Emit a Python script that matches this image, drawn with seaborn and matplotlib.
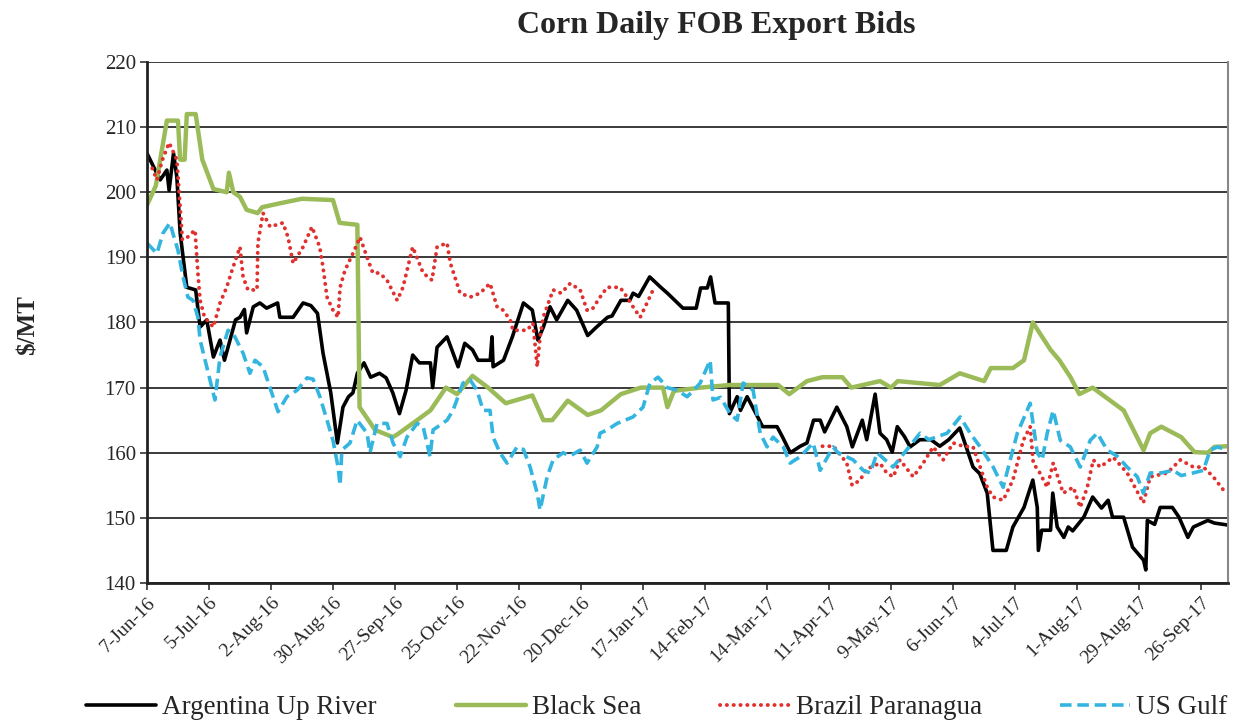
import numpy as np
import pandas as pd
import matplotlib
matplotlib.use("Agg")
import matplotlib.pyplot as plt
import seaborn as sns

START = "2016-06-07"
# (days since 7-Jun-16, $/MT)
argentina = [(0,206),(3,203.9),(6,201.9),(9,203.4),(10,200.3),(12,206),(13.5,202.3),(15,193.7),(18,185.4),(22,185),
    (24,179.3),(27,180.4),(30,174.7),(33,177.3),(35,174.2),(40,180.4),(42,180.8),(44,182),(45,178.4),(48,182.4),
    (51,183),(54,182.2),(59,183),(60,180.8),(66,180.8),(70.5,183),(74,182.6),(77,181.4),(79.5,175.3),(83,169.2),
    (86,161.5),(88.5,167),(91,168.6),(93,169.2),(95,172.2),(98,173.8),(101,171.6),(105,172.2),(108,171.5),(111,169.2),
    (114,166),(117,169.6),(120,175),(123,173.8),(128,173.8),(129,170),(131,176.2),(135.5,177.8),(138,175.5),(140.5,173.2),
    (143.5,176.8),(147,175.8),(149.5,174.2),(155,174.2),(155.8,177.8),(156.3,173.2),(161,174.2),(165,177.8),(170,183),
    (174,181.9),(176.5,177.3),(179,179.3),(182,182.4),(185,180.4),(190,183.4),(194,181.9),(199,178),(203,179.3),
    (208,180.8),(210,181),(214,183.4),(218,183.4),(219.5,184.5),(222,184),(227,187),(232,185.4),(235,184.5),(242,182.2),
    (248,182.2),(250,185.3),(253,185.3),(254.5,187),(256.5,183),(262.5,183),(263,166),(266.5,168.6),(268,166.5),
    (271,168.6),(275,166),(278,164),(284.5,164),(287,162.4),(290.5,160),(295,161),(298,161.5),(301,165),(304,165),
    (306,163.2),(311.5,167),(316,164),(318.5,160.9),(323,165),(325,162),(328.8,169),(331,163),(334,162),(336.5,160.1),
    (338.8,164),(342,162.5),(344.6,160.9),(349,162),(354,162),(358,161),(362,162),(367,163.8),(373,157.8),(376,156.8),
    (379.4,153.8),(382,145),(388,145),(391,148.6),(396,151.6),(400,155.8),(402,151.6),(402.5,145),(404,148.1),
    (408,148.1),(409,153.8),(411,148.6),(414,147),(416,148.6),(418,148),(423,150.1),(427,153.2),(431,151.5),
    (434,152.7),(436,150.1),(441,150.1),(445,145.5),(450,143.5),(451,142),(451.7,149.6),(455,149),(457.5,151.6),
    (463,151.6),(466,150.1),(470,147),(472.5,148.6),(479,149.6),(482,149.2),(488,148.9)]

black_sea = [(0,198),(4,201),(9,211),(14,211),(15,205),(17,205),(18,212),(22,212),(25,205),(30,200.5),(36,200),
    (37,203),(39,200),(42,199.3),(45,197.3),(50,196.8),(52,197.7),(60,198.3),(70,199),(84,198.8),(87,195.3),(95,195),
    (96,167),(99,165.5),(103,163.5),(111,162.4),(113,162.8),(122,165),(128,166.5),(135,170),(140,169),(147,171.8),
    (154,170),(162,167.6),(174,168.8),(179,165),(183,165),(190,168),(199,165.8),(205,166.5),(214,169),(223,170),
    (233,170),(235,167),(238,169.5),(250,170),(263,170.4),(285,170.4),(290,169),(298,171),(305,171.6),(314,171.6),
    (318,170),(331,171),(336,170),(339,171),(358,170.4),(367,172.2),(378,171),(381,173),(391,173),(396,174.2),
    (400,180),(408,175.8),(412,174.2),(417,171.6),(421,169),(427,170),(441,166.5),(450,160.4),(453,163),(458,164),
    (467,162.4),(473,160.1),(479,160),(482,160.9),(488,161)]

brazil_a = [(0,203.9),(2,204),(4.5,201.9),(7,205),(10,207.6),(13.5,205),(16,192.7),(18,193),(21.7,194.2),(23,187.6),
    (24,183.4),(26,180.8),(30,179.3),(33,183),(36,185.4),(38.4,188),(42,191.6),(43.4,187),(45.6,185),(49.7,185),
    (50.1,192.2),(52.4,196.8),(55.6,194.7),(61.4,195.3),(63.7,193.1),(66,189.1),(70.5,191.6),(74.5,194.7),(78,191.6),
    (79.5,188.5),(81.3,183.9),(84,181.9),(86.3,180.8),(87.2,185.4),(89.4,188),(93,190.6),(96.2,193.1),(99.4,190),
    (102,187.6),(105,187.6),(108.4,186.5),(113,183.4),(115.6,185.4),(120,191.6),(124.7,187.6),(128.7,186.5),
    (131,191.6),(135.5,192.2),(137,189.1),(141.4,184.5),(146,183.9),(150.4,184.5),(154.9,186),(158.1,182.4),
    (160.8,181.9),(164,180.4),(165.3,178.8),(171.6,178.8),(174.3,179.9),(176.2,173.2),(177.5,177.8),(178.9,180.8),
    (183.4,185),(187,184.5),(191.1,186),(195.6,185),(198.7,181.9),(201,182),(204.6,183.9),(207.8,185.4),(213.6,185.4),
    (216.8,183.9),(219.5,182.4),(222.7,180.8),(225.8,183),(228.5,185)]
brazil_b = [(305,161),(310,161),(316,158.4),(318.4,155),(322,155.8),(325,157.5),(331,158.4),(334,156.9),(337,156.3),
    (340,158.9),(346,156.3),(350.5,158.4),(355,160.9),(359.5,158.9),(364,161.5),(368.6,161),(373,160.9),(379.4,154.7),
    (382,153.2),(386.6,152.7),(391,155.8),(395.7,161.9),(398.8,164),(400.2,158.4),(403,157),(406.5,154.7),(409.2,158.4),
    (413.7,153.8),(418.3,154.7),(421.4,151.6),(424.6,154.7),(427.3,158.9),(430.4,157.8),(436.3,159.3),(442.6,156.9),
    (449.9,152.3),(453,156.3),(460.7,156.9),(466.6,158.9),(472.5,157.8),(477,157.8),(481.5,156.3),(486,154.3)]

us_gulf = [(0,192.2),(4.5,190.6),(7.2,193.7),(10.4,195.3),(11.7,193.7),(14,191.1),(16.3,187),(18.5,183.9),(20.8,183.4),
    (23,180.8),(24,177.3),(27,173.2),(30.7,168.1),(33,174.7),(36.6,178.8),(38.8,178.4),(43.4,175.3),(46.5,172.2),
    (48.8,174.2),(52.4,173.2),(56.9,168.6),(59.2,166.3),(63.2,168.6),(67.8,169.6),(72.3,171.5),(75,171.3),(78.1,168.6),
    (81.3,165),(84,161.9),(86.3,157.8),(87.2,155),(88,160.4),(91.7,161.5),(94.9,165),(99.4,163),(100.7,160),(103.9,164.5),
    (108.4,164.5),(111.1,161.5),(114.3,159.4),(117.4,162.4),(122,164.5),(124.7,164),(127.8,159.4),(129.2,163.5),
    (135.5,165),(138.2,166.5),(142.7,170.7),(145.9,171.2),(149,169.6),(151.8,166.5),(154.9,166.5),(156.3,162.4),
    (159.4,160),(162.6,158.4),(167.1,160.9),(170,160.5),(173,157.8),(176.2,153.8),(177.5,151.2),(180.7,156.3),
    (183.4,158.9),(187.9,160),(191,159.5),(195.6,160.4),(198.7,158.4),(203.3,160.9),(204.6,163),(207.8,163.5),
    (212.3,164.5),(219.5,165.5),(224,167),(227.1,170.7),(230.8,171.6),(234.9,170),(239.4,169.6),(243.9,168.6),
    (246.6,169.5),(249.8,170.7),(254.3,174.2),(255.6,168.1),(259,168.5),(263.3,166),(266.5,165),(269.2,170.7),
    (273.7,169.6),(276.9,163),(280,160.9),(282.7,162.4),(287.3,160.9),(290.4,158.4),(295,159.4),(300.8,161.5),
    (304,157.3),(309.8,160.9),(312,160),(318.9,158.9),(323.4,157.3),(326.6,156.9),(329.7,160),(333,159),(336.9,157.8),
    (342,160),(349.1,163),(353,162),(361.3,163),(367.2,165.5),(371.7,163),(376.2,160.9),(382.1,157.8),(386.6,154.7),
    (389.8,158.9),(393,163),(398.8,167.6),(402,160),(404.2,158.9),(406.5,163),(409.2,166.5),(412.4,161.9),
    (416.9,160.9),(421.4,157.8),(425.9,161.9),(429.1,163),(433.6,160.4),(438,159.5),(442.6,157.8),(447.2,156.3),
    (449.9,153.8),(453,156.9),(458,156.9),(463.4,157.3),(467,156.5),(472.5,156.9),(477,157.3),(480.1,160.4),
    (483.3,160.9),(488,160.4)]

series_labels = ["Argentina Up River", "Black Sea", "Brazil Paranagua", "US Gulf"]
tick_step_days = 28
n_ticks = 18
y_ticks = [140, 150, 160, 170, 180, 190, 200, 210, 220]

def to_df(pairs):
    d = pd.DataFrame(pairs, columns=["day", "price"])
    d["date"] = pd.Timestamp(START) + pd.to_timedelta(d["day"] * 24, unit="h")
    return d

sns.set_theme(style="white")
plt.rcParams["font.family"] = ["Liberation Serif", "DejaVu Serif"]

fig = plt.figure(figsize=(12.38, 7.26), dpi=100)
ax = fig.add_axes([0.1187, 0.197, 0.873, 0.7176])

c_arg = "#000000"
c_bs = "#9BBB59"
c_br = "#E0312F"
c_us = "#33B5E0"

sns.lineplot(data=to_df(argentina), x="date", y="price", ax=ax, color=c_arg, lw=2.6,
             estimator=None, label=series_labels[0])
sns.lineplot(data=to_df(black_sea), x="date", y="price", ax=ax, color=c_bs, lw=3.2,
             estimator=None, label=series_labels[1])
for i, seg in enumerate([brazil_a, brazil_b]):
    sns.lineplot(data=to_df(seg), x="date", y="price", ax=ax, color=c_br, lw=2.8,
                 estimator=None, label=series_labels[2] if i == 0 else None)
for line in ax.get_lines()[2:4]:
    line.set_linestyle((0, (0.05, 1.7)))
    line.set_dash_capstyle("round")
sns.lineplot(data=to_df(us_gulf), x="date", y="price", ax=ax, color=c_us, lw=2.6,
             estimator=None, label=series_labels[3])
ax.get_lines()[-1].set_linestyle((0, (3.2, 1.6)))

start = pd.Timestamp(START)
ticks = [start + pd.Timedelta(days=tick_step_days * i) for i in range(n_ticks)]
ax.set_xticks(ticks)
ax.set_xticklabels([f"{t.day}-{t.strftime('%b-%y')}" for t in ticks], rotation=45,
                   ha="right", rotation_mode="anchor", fontsize=14)
ax.set_xlim(start, start + pd.Timedelta(days=488))
ax.set_ylim(140, 220)
ax.set_yticks(y_ticks)
ax.set_yticklabels([str(v) for v in y_ticks], fontsize=15)
ax.yaxis.grid(True, color="#3a3a3a", lw=1.4)
ax.xaxis.grid(False)
ax.set_axisbelow(True)
ax.tick_params(axis="both", which="both", direction="out", length=5, width=1.2, color="#333333",
               bottom=True, left=True, pad=3)
for s in ["left", "bottom"]:
    ax.spines[s].set_color("#222222")
    ax.spines[s].set_linewidth(2)
ax.spines["right"].set_color("#888888")
ax.spines["right"].set_linewidth(1.5)
ax.spines["top"].set_visible(False)
ax.set_xlabel("")
ax.set_ylabel("")
fig.text(28 / 1238, 1 - 325 / 726, "$/MT", rotation=90, ha="center", va="center",
         fontsize=18, fontweight="bold")
fig.text(716 / 1238, 1 - 25 / 726, "Corn Daily FOB Export Bids", ha="center", va="center",
         fontsize=23, fontweight="bold")

h, lab = ax.get_legend_handles_labels()
ax.legend_.remove()
leg_x = [86, 456, 720, 1060]
for hh, ll, xx in zip(h, lab, leg_x):
    fig.legend([hh], [ll], loc="center left", bbox_to_anchor=(xx / 1238, 1 - 708 / 726),
               frameon=False, fontsize=19.5, handlelength=2.6, handletextpad=0.22,
               borderpad=0, borderaxespad=0)

fig.savefig("out.png", dpi=100)
